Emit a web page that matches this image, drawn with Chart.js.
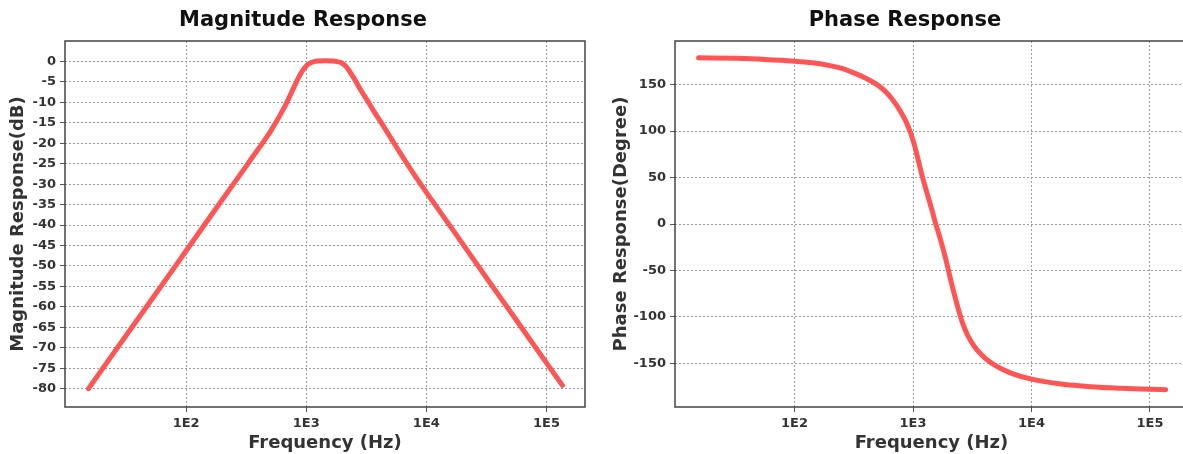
<!DOCTYPE html>
<html><head><meta charset="utf-8">
<script src="https://cdn.jsdelivr.net/npm/chart.js@4.4.0/dist/chart.umd.min.js"></script>
<style>
html,body{margin:0;padding:0;background:#fff;overflow:hidden;width:1183px;height:454px;position:relative;}
canvas{position:absolute;top:0;}
#c1{left:0;} #c2{left:600px;}
</style></head><body>
<canvas id="c1" width="606" height="454"></canvas>
<canvas id="c2" width="610" height="454"></canvas>
<script>
// ---- data ----
const magFreq = [15.38, 31.62, 56.23, 100, 177.8, 316.2, 354.8, 452.9, 501.2, 548.3, 616.6, 695.0, 758.6, 831.8, 891.3, 944.1, 1000, 1074, 1143, 1259, 1445, 1660, 1845, 1950, 2032, 2138, 2234, 2399, 2588, 2884, 3281, 3715, 4236, 5129, 6026, 7079, 8318, 10000, 17783, 31623, 56234, 100000, 135831];
const magDb   = [-80, -67.0, -56.7, -46.3, -35.9, -25.6, -23.5, -19.1, -17.2, -15.3, -12.7, -9.8, -7.4, -4.9, -3.2, -2.0, -1.1, -0.4, -0.1, 0.1, 0.15, 0.1, -0.1, -0.3, -0.6, -1.2, -1.9, -3.3, -4.9, -7.3, -9.9, -12.5, -15.1, -19.0, -22.3, -25.5, -28.6, -32.0, -42.4, -52.9, -63.3, -73.7, -79.2];

const phaseFreq = [15.49, 31.62, 56.23, 100, 141.3, 199.5, 251.2, 297.8, 354.8, 412.1, 489.8, 568.9, 676.1, 787.0, 871.0, 957.2, 1023, 1089, 1143, 1199, 1274, 1365, 1462, 1556, 1660, 1770, 1888, 2014, 2148, 2291, 2455, 2612, 2884, 3273, 3802, 4529, 5495, 7079, 10000, 17783, 31623, 56234, 100000, 135831];
const phaseDeg  = [179.0, 178.3, 177.2, 175.3, 173.5, 170.5, 167.5, 164.0, 160.0, 156.0, 150.5, 144.1, 133.5, 120.8, 110.5, 97.6, 86, 72.5, 61.5, 51.1, 39, 26.1, 12.8, 0, -11.5, -24, -37.5, -52.6, -67.5, -81.2, -95, -106.2, -119.5, -131.3, -141, -149.1, -155.5, -161.5, -167, -172.3, -175.2, -176.8, -177.8, -178.3];

const freqTicks = [100, 1000, 10000, 100000];
const freqTickLabels = ['1E2', '1E3', '1E4', '1E5'];
const magTicks = [-80, -75, -70, -65, -60, -55, -50, -45, -40, -35, -30, -25, -20, -15, -10, -5, 0];
const phaseTicks = [-150, -100, -50, 0, 50, 100, 150];

const titles = ['Magnitude Response', 'Phase Response'];
const yTitles = ['Magnitude Response(dB)', 'Phase Response(Degree)'];
const xTitle = 'Frequency (Hz)';

// ---- styling ----
Chart.defaults.font.family = '"DejaVu Sans", sans-serif';
const LINE = '#ff5555';
const GRID = '#9a9a9a';
const TXT = '#333333';

const frame = {
  id: 'frame',
  afterDraw(chart) {
    const {ctx, chartArea: a} = chart;
    ctx.save();
    ctx.strokeStyle = '#444';
    ctx.lineWidth = 1.5;
    ctx.strokeRect(a.left, a.top, a.right - a.left, a.bottom - a.top);
    ctx.restore();
  }
};

function makeChart(id, cfg) {
  const pts = cfg.xs.map((f, i) => ({x: f, y: cfg.ys[i]}));
  return new Chart(document.getElementById(id), {
    type: 'line',
    data: { datasets: [{ data: pts, borderColor: LINE, borderWidth: 5, pointRadius: 0,
      cubicInterpolationMode: 'monotone', borderCapStyle: 'round', borderJoinStyle: 'round', fill: false }] },
    options: {
      responsive: false, animation: false, devicePixelRatio: 1,
      layout: { padding: 0 },
      plugins: {
        legend: { display: false }, tooltip: { enabled: false },
        title: { display: true, text: cfg.title, color: '#111',
          font: { size: 21, weight: 'bold', lineHeight: 1.2 }, padding: { top: 8, bottom: 7.8 } }
      },
      scales: {
        x: {
          type: 'logarithmic', position: 'bottom', min: 9.8, max: 209400,
          afterBuildTicks: s => { s.ticks = freqTicks.map(v => ({value: v})); },
          afterFit: s => { s.height = 47; },
          ticks: { autoSkip: false, maxRotation: 0, color: TXT, padding: 4,
            font: { size: 13, weight: 'bold' },
            callback: v => { const i = freqTicks.indexOf(v); return i >= 0 ? freqTickLabels[i] : ''; } },
          grid: { color: GRID, lineWidth: 1, tickLength: 5, tickColor: '#555', tickWidth: 1 },
          border: { display: false, dash: [2, 2] },
          title: { display: true, text: xTitle, color: TXT, font: { size: 18, weight: 'bold', lineHeight: 1.2 }, padding: { top: 0, bottom: 0 } }
        },
        y: {
          type: 'linear', position: 'left', min: cfg.ymin, max: cfg.ymax,
          afterBuildTicks: s => { s.ticks = cfg.yticks.map(v => ({value: v})); },
          afterFit: s => { s.width = cfg.yw; },
          ticks: { color: TXT, padding: 4, font: { size: 13, weight: 'bold' } },
          grid: { color: GRID, lineWidth: 1, tickLength: 5, tickColor: '#555', tickWidth: 1 },
          border: { display: false, dash: [2, 2] },
          title: { display: true, text: cfg.ytitle, color: TXT, font: { size: 18, weight: 'bold', lineHeight: 1.2 }, padding: { top: cfg.ytp, bottom: 0 } }
        },
        yr: {
          type: 'linear', position: 'right', display: true,
          afterFit: s => { s.width = cfg.rw; },
          ticks: { display: false }, grid: { display: false, drawTicks: false }, border: { display: false }
        }
      }
    },
    plugins: [frame]
  });
}

makeChart('c1', { xs: magFreq, ys: magDb, title: titles[0], ytitle: yTitles[0], yticks: magTicks,
  ymin: -84.5, ymax: 5.0, yw: 65, rw: 21, ytp: 7.2 });
makeChart('c2', { xs: phaseFreq, ys: phaseDeg, title: titles[1], ytitle: yTitles[1], yticks: phaseTicks,
  ymin: -197, ymax: 197, yw: 75, rw: 22, ytp: 10.2 });
</script>
</body></html>
